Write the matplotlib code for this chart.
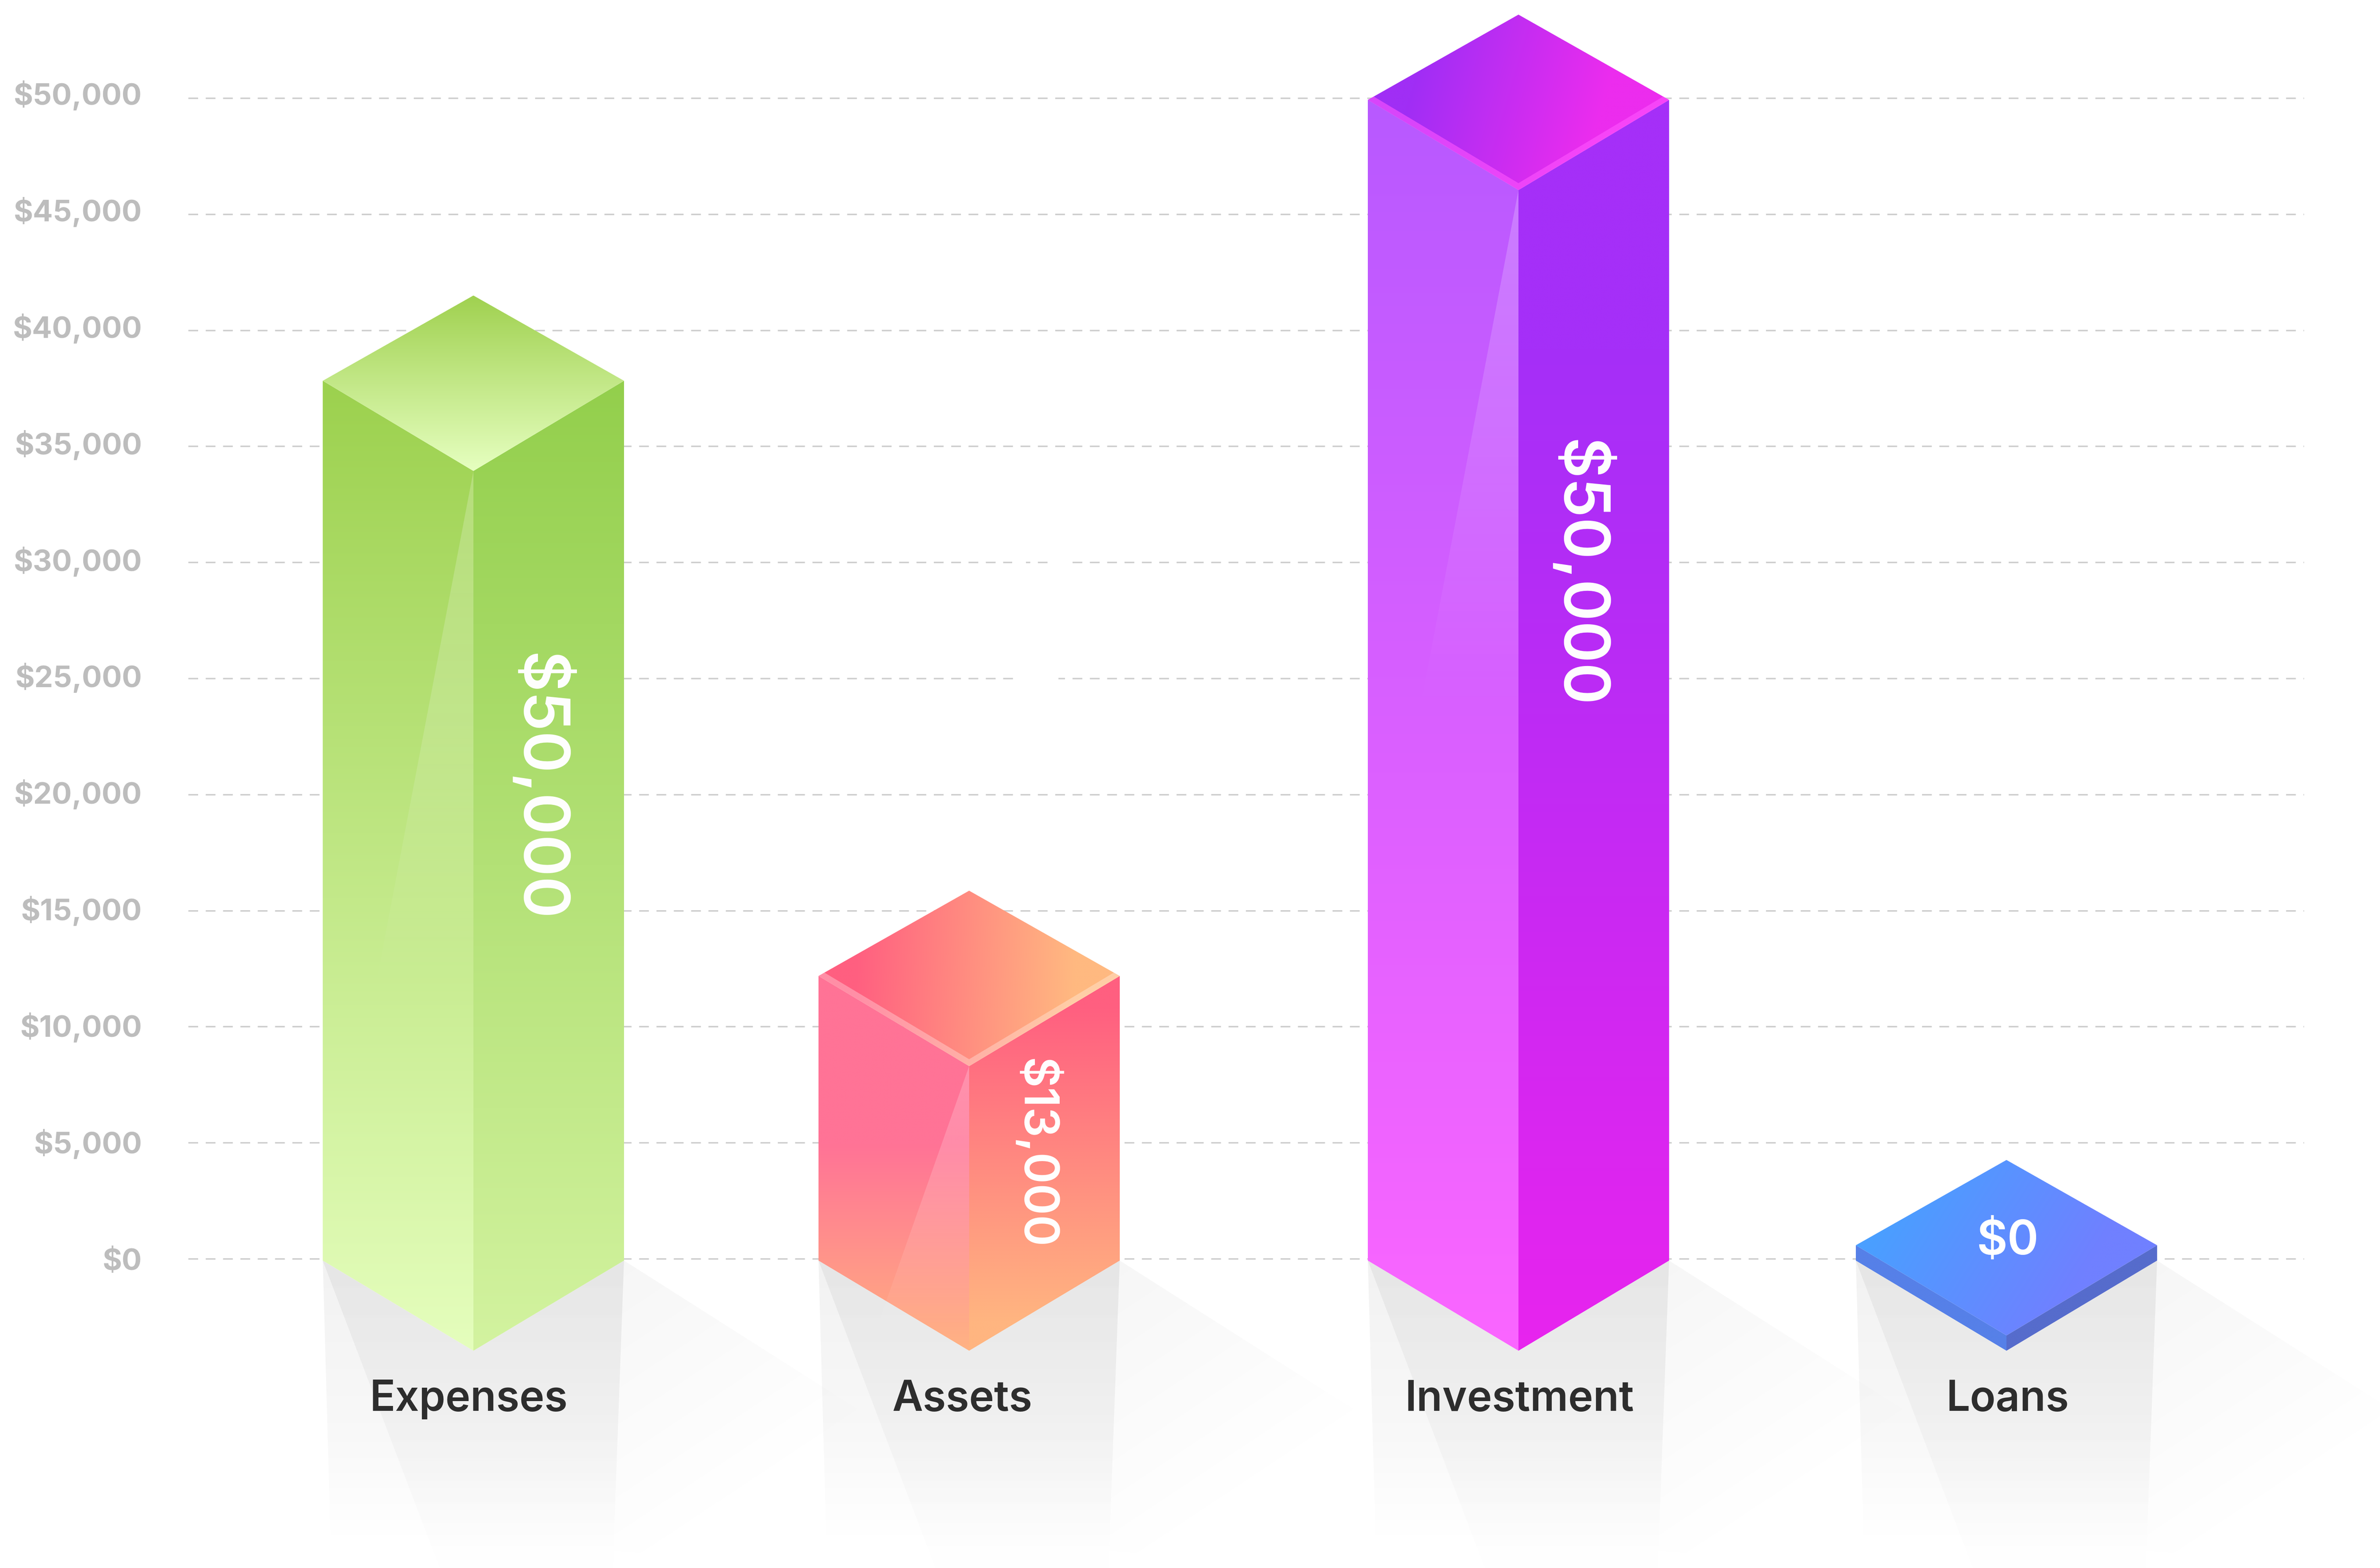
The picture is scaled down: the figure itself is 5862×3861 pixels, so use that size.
import numpy as np
import matplotlib
matplotlib.use("Agg")
import matplotlib.pyplot as plt
from matplotlib.patches import Polygon, Rectangle
from matplotlib.colors import to_rgb

categories = ["Expenses", "Assets", "Investment", "Loans"]
# bar heights as they read against the dollar axis
bar_heights = [37900, 12260, 50000, 0]
# amounts printed on the bars
value_labels = ["$50,000", "$13,000", "$50,000", "$0"]
tick_values = [0, 5000, 10000, 15000, 20000, 25000, 30000, 35000, 40000, 45000, 50000]
tick_labels = ["$0", "$5,000", "$10,000", "$15,000", "$20,000", "$25,000",
               "$30,000", "$35,000", "$40,000", "$45,000", "$50,000"]

# layout, in figure pixels
W, H = 5862, 3862
ZERO_PX = 3101
PX_PER_STEP = 285.8
USD_PER_PX = 5000 / PX_PER_STEP
bar_centers = [1166, 2387, 3740, 4942]
label_centers = [1154, 2370, 3742, 4945]
value_pos = [(1330, 1938, -90, 112), (2553, 2840, -90, 84), (3892, 1412, -90, 112), (4945, 3058, 0, 84)]
shine_len = [1290, 640, 1290, None]
shine_mid_alpha = [0.16, 0.16, 0.12, None]
shine_end_alpha = [0.0, 0.04, 0.0, None]
HALF_W = 371
BACK_PX = 210
FRONT_PX = 222
BASE_PX = 3105
SLAB_USD = 660

left_stops = [[(0, "#9cd14e"), (1, "#e5febd")],
              [(0, "#ff7396"), (0.45, "#ff7396"), (1, "#ffb080")],
              [(0, "#b859ff"), (1, "#fb66ff")],
              [(0, "#5680e8"), (1, "#5680e8")]]
right_stops = [[(0, "#93cf4c"), (1, "#d3f3a0")],
               [(0, "#ff5f80"), (0.08, "#ff5f80"), (0.92, "#ffb580"), (1, "#ffb580")],
               [(0, "#a52ff8"), (0.2, "#a52ff8"), (1, "#e824ee")],
               [(0, "#566ccc"), (1, "#566ccc")]]
top_stops = [[(0, "#a0d150"), (1, "#e6ffc0")],
             [(0, "#ff5f80"), (1, "#ffb980")],
             [(0, "#a02ef5"), (1, "#ec2cee")],
             [(0, "#4a9fff"), (1, "#7080ff")]]
top_dirs = [((0.5, 0), (0.5, 1)),
            ((0.12, 0.5), (0.85, 0.55)),
            ((0.15, 0.4), (0.75, 0.7)),
            ((0.15, 0.2), (0.7, 0.8))]
bevels = [None, ("#ffffff", 0.3), ("#ff55ff", 0.6), None]
BEVEL_PX = 17

plt.rcParams["font.family"] = ["Inter", "Roboto", "DejaVu Sans"]
plt.rcParams["lines.scale_dashes"] = False

fig = plt.figure(figsize=(W / 100, H / 100), dpi=100, facecolor="white")
ax = fig.add_axes([0, 0, 1, 1])
ax.set_xlim(0, W)
ax.set_ylim((ZERO_PX - H) * USD_PER_PX, ZERO_PX * USD_PER_PX)
ax.axis("off")


def Y(px):
    return (ZERO_PX - px) * USD_PER_PX


def pt(px):
    return px * 72 / 100


def fill_grad(verts, stops, p0, p1, z, alpha_stops=None):
    # gradient between p0 and p1, clipped to the polygon
    verts = np.array(verts, dtype=float)
    x0, x1 = verts[:, 0].min(), verts[:, 0].max()
    v0, v1 = verts[:, 1].min(), verts[:, 1].max()
    xs = np.linspace(x0, x1, 300)
    vs = np.linspace(v1, v0, 600)
    gx, gv = np.meshgrid(xs, vs)
    dx = p1[0] - p0[0]
    dy = (p1[1] - p0[1]) / USD_PER_PX
    t = ((gx - p0[0]) * dx + (gv - p0[1]) / USD_PER_PX * dy) / (dx * dx + dy * dy)
    pos = [s[0] for s in stops]
    cols = np.array([to_rgb(s[1]) for s in stops])
    img = np.zeros(t.shape + (4,))
    for i in range(3):
        img[..., i] = np.interp(t, pos, cols[:, i])
    if alpha_stops is None:
        img[..., 3] = 1
    else:
        img[..., 3] = np.interp(t, [a[0] for a in alpha_stops], [a[1] for a in alpha_stops])
    im = ax.imshow(img, extent=(x0, x1, v0, v1), origin="upper", aspect="auto",
                   interpolation="bilinear", zorder=z)
    im.set_clip_path(Polygon(verts, closed=True, transform=ax.transData))


def frac(verts, u, v):
    # point inside the bounding box, v counted from the top
    verts = np.array(verts, dtype=float)
    x0, x1 = verts[:, 0].min(), verts[:, 0].max()
    v0, v1 = verts[:, 1].min(), verts[:, 1].max()
    return (x0 + u * (x1 - x0), v1 - v * (v1 - v0))


def draw_shadow(c):
    l, r = c - HALF_W, c + HALF_W
    base = Y(BASE_PX)
    front = Y(BASE_PX + FRONT_PX)
    black = [(0, "#000000"), (1, "#000000")]
    # faint fan to the right of the bar
    far = [(r, base), (r + 900, Y(BASE_PX + 572)), (r + 450, Y(H)), (r - 25, Y(3820))]
    fill_grad(far, black, (r, base), (r + 385, Y(BASE_PX + 581)), 1,
              alpha_stops=[(0, 0.037), (1, 0.0)])
    # trapezoid under the bar
    bottom = Y(3820)
    trap = [(l, base), (c, front), (r, base), (r - 26, bottom), (l + 20, bottom)]
    fill_grad(trap, black, (c, base), (c, bottom), 1,
              alpha_stops=[(0, 0.055), (0.59, 0.03), (1, 0.0)])
    # darker wedge inside it
    wedge = [(l, base), (c, front), (r, base), (r - 27, Y(H)), (l + 288, Y(H))]
    fill_grad(wedge, black, (c, base), (c, Y(H)), 1,
              alpha_stops=[(0, 0.05), (0.54, 0.03), (0.85, 0.012), (1, 0.004)])


for c in bar_centers:
    draw_shadow(c)

# dashed gridlines, left from a common start so the dashes stay in phase
for v in tick_values:
    line, = ax.plot([464, 5675], [v, v], color="#cccccc", lw=pt(3.5), zorder=2,
                    solid_capstyle="butt", dash_capstyle="butt")
    line.set_dashes((pt(24), pt(18.7)))

# white breaks in two of the lines
for x0, x1, v in [(2493, 2527, 30000), (2580, 2640, 30000), (2510, 2607, 25000)]:
    ax.add_patch(Rectangle((x0, v - 100), x1 - x0, 200, fc="white", ec="none", zorder=2.5))

for i, c in enumerate(bar_centers):
    l, r = c - HALF_W, c + HALF_W
    base = Y(BASE_PX)
    top = base + max(bar_heights[i], SLAB_USD)
    front = top - FRONT_PX * USD_PER_PX
    back = top + BACK_PX * USD_PER_PX
    front_base = base - FRONT_PX * USD_PER_PX

    left = [(l, top), (c, front), (c, front_base), (l, base)]
    right = [(c, front), (r, top), (r, base), (c, front_base)]
    roof = [(l, top), (c, back), (r, top), (c, front)]

    fill_grad(left, left_stops[i], frac(left, 0.5, 0), frac(left, 0.5, 1), 3)
    fill_grad(right, right_stops[i], frac(right, 0.5, 0), frac(right, 0.5, 1), 3)
    p0, p1 = top_dirs[i]
    fill_grad(roof, top_stops[i], frac(roof, *p0), frac(roof, *p1), 3)

    # light streak running down from the front corner
    if shine_len[i]:
        n = shine_len[i]
        tip = 0.19 if i != 1 else 0.40
        end = front - n * USD_PER_PX
        streak = [(c, front), (c, end), (c - n * tip, end)]
        if i == 1:
            streak = [(c, front), (c, front_base), (c - n * tip + 30, end)]
        fill_grad(streak, [(0, "#ffffff"), (1, "#ffffff")], (c, front), (c, end), 4,
                  alpha_stops=[(0, 0.22), (0.5, shine_mid_alpha[i]), (1, shine_end_alpha[i])])

    # bright rim along the two front edges of the roof
    if bevels[i]:
        col, a = bevels[i]
        s = BEVEL_PX * USD_PER_PX
        d = BEVEL_PX / 1.162
        rim_l = [(l, top), (c, front), (c, front + s), (l + d, top + 0.566 * d * USD_PER_PX)]
        rim_r = [(r, top), (c, front), (c, front + s), (r - d, top + 0.566 * d * USD_PER_PX)]
        for rim in (rim_l, rim_r):
            ax.add_patch(Polygon(rim, closed=True, fc=col, ec="none", alpha=a, zorder=4))

for v, s in zip(tick_values, tick_labels):
    drop = 26 - 11 * v / 50000
    ax.text(350, v - drop * USD_PER_PX, s, ha="right", va="baseline", color="#bdbdbd",
            fontsize=pt(73), fontweight="bold", zorder=5)

for s, x in zip(categories, label_centers):
    ax.text(x, Y(3474), s, ha="center", va="baseline", color="#2d2d2d",
            fontsize=pt(104), fontweight="semibold", zorder=5)

for s, (x, y, rot, size) in zip(value_labels, value_pos):
    ax.text(x, Y(y), s, ha="center", va="center", rotation=rot, color="white",
            fontsize=size, fontweight="semibold", zorder=5)

ax.set_xlim(0, W)
ax.set_ylim((ZERO_PX - H) * USD_PER_PX, ZERO_PX * USD_PER_PX)
fig.savefig("out.png", dpi=100)
